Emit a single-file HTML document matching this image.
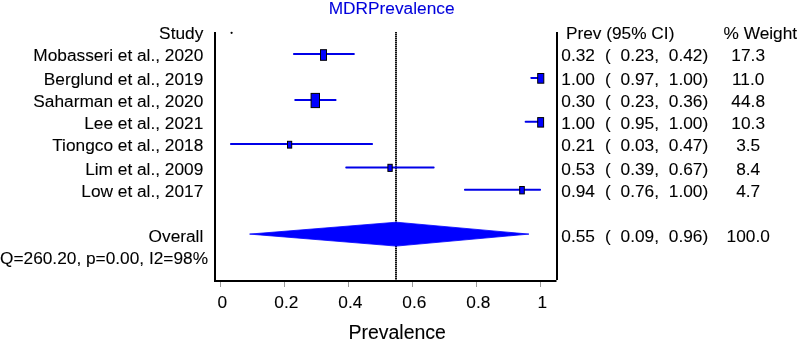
<!DOCTYPE html>
<html><head><meta charset="utf-8"><style>
html,body{margin:0;padding:0;background:#fff;}
body{width:797px;height:345px;overflow:hidden;position:relative;font-family:"Liberation Sans",sans-serif;}
.t{position:absolute;white-space:pre;-webkit-font-smoothing:antialiased;-webkit-text-stroke:0.1px currentColor;}
</style></head><body>
<svg width="797" height="345" viewBox="0 0 797 345" style="position:absolute;left:0;top:0"><rect x="395" y="32" width="2" height="248" fill="url(#dots)"/><rect x="293.0" y="53.10" width="61.80" height="2" rx="0.8" fill="#0000e8"/><rect x="530.3" y="76.90" width="10.20" height="2" rx="0.8" fill="#0000e8"/><rect x="294.3" y="99.00" width="42.20" height="2" rx="0.8" fill="#0000e8"/><rect x="524.7" y="120.80" width="15.80" height="2" rx="0.8" fill="#0000e8"/><rect x="230.0" y="143.10" width="143.00" height="2" rx="0.8" fill="#0000e8"/><rect x="345.3" y="166.50" width="89.30" height="2" rx="0.8" fill="#0000e8"/><rect x="464.0" y="188.70" width="77.00" height="2" rx="0.8" fill="#0000e8"/><rect x="320.50" y="49.70" width="6.00" height="10.60" fill="#0000ff" stroke="#000" stroke-width="1"/><rect x="537.70" y="73.50" width="6.10" height="9.70" fill="#0000ff" stroke="#000" stroke-width="1"/><rect x="311.10" y="93.40" width="8.40" height="14.20" fill="#0000ff" stroke="#000" stroke-width="1"/><rect x="537.70" y="117.60" width="5.90" height="9.50" fill="#0000ff" stroke="#000" stroke-width="1"/><rect x="287.50" y="141.30" width="4.20" height="6.80" fill="#0000ff" stroke="#000" stroke-width="1"/><rect x="387.90" y="164.30" width="4.30" height="7.10" fill="#0000ff" stroke="#000" stroke-width="1"/><rect x="519.70" y="186.50" width="4.60" height="7.40" fill="#0000ff" stroke="#000" stroke-width="1"/><polygon points="249.6,234.1 396.2,222.2 528.9,234.1 396.2,246.1" fill="#0000ff" stroke="#0000ff" stroke-width="0.8"/><rect x="214" y="32" width="2" height="248" fill="#000"/><rect x="556" y="32" width="2" height="248" fill="#000"/><rect x="214" y="280" width="342.5" height="2" fill="#000"/><rect x="220.00" y="282" width="1" height="5" fill="#9a9a9a"/><rect x="284.00" y="282" width="1" height="5" fill="#9a9a9a"/><rect x="348.00" y="282" width="1" height="5" fill="#9a9a9a"/><rect x="412.00" y="282" width="1" height="5" fill="#9a9a9a"/><rect x="476.00" y="282" width="1" height="5" fill="#9a9a9a"/><rect x="540.00" y="282" width="1" height="5" fill="#9a9a9a"/><circle cx="231.6" cy="32.8" r="1.1" fill="#000"/><defs><pattern id="dots" x="0" y="32" width="2" height="2" patternUnits="userSpaceOnUse"><rect width="2" height="1" fill="#111"/><rect y="1" width="2" height="1" fill="#858585"/></pattern></defs></svg>
<div class="t" style="top:-1.06px;font-size:17.3px;line-height:19.89px;color:#0000dc;transform:translateZ(0) scaleY(1.0);transform-origin:0 15.66px;left:328.70px;">MDRPrevalence</div>
<div class="t" style="top:24.14px;font-size:17.3px;line-height:19.89px;color:#000;transform:translateZ(0) scaleY(1.0);transform-origin:0 15.66px;right:593.70px;text-align:right;">Study</div>
<div class="t" style="top:46.24px;font-size:17.3px;line-height:19.89px;color:#000;transform:translateZ(0) scaleY(1.0);transform-origin:0 15.66px;right:593.70px;text-align:right;">Mobasseri et al., 2020</div>
<div class="t" style="top:69.84px;font-size:17.3px;line-height:19.89px;color:#000;transform:translateZ(0) scaleY(1.0);transform-origin:0 15.66px;right:593.70px;text-align:right;">Berglund et al., 2019</div>
<div class="t" style="top:91.94px;font-size:17.3px;line-height:19.89px;color:#000;transform:translateZ(0) scaleY(1.0);transform-origin:0 15.66px;right:593.70px;text-align:right;">Saharman et al., 2020</div>
<div class="t" style="top:114.44px;font-size:17.3px;line-height:19.89px;color:#000;transform:translateZ(0) scaleY(1.0);transform-origin:0 15.66px;right:593.70px;text-align:right;">Lee et al., 2021</div>
<div class="t" style="top:136.14px;font-size:17.3px;line-height:19.89px;color:#000;transform:translateZ(0) scaleY(1.0);transform-origin:0 15.66px;right:593.70px;text-align:right;">Tiongco et al., 2018</div>
<div class="t" style="top:159.54px;font-size:17.3px;line-height:19.89px;color:#000;transform:translateZ(0) scaleY(1.0);transform-origin:0 15.66px;right:593.70px;text-align:right;">Lim et al., 2009</div>
<div class="t" style="top:181.94px;font-size:17.3px;line-height:19.89px;color:#000;transform:translateZ(0) scaleY(1.0);transform-origin:0 15.66px;right:593.70px;text-align:right;">Low et al., 2017</div>
<div class="t" style="top:227.44px;font-size:17.3px;line-height:19.89px;color:#000;transform:translateZ(0) scaleY(1.0);transform-origin:0 15.66px;right:593.70px;text-align:right;">Overall</div>
<div class="t" style="top:249.24px;font-size:17.3px;line-height:19.89px;color:#000;transform:translateZ(0) scaleY(1.0);transform-origin:0 15.66px;left:0.00px;">Q=260.20, p=0.00, I2=98%</div>
<div class="t" style="top:24.24px;font-size:17.3px;line-height:19.89px;color:#000;transform:translateZ(0) scaleY(1.0);transform-origin:0 15.66px;left:565.90px;">Prev (95% CI)</div>
<div class="t" style="top:24.24px;font-size:17.3px;line-height:19.89px;color:#000;transform:translateZ(0) scaleY(1.0);transform-origin:0 15.66px;left:723.50px;">% Weight</div>
<div class="t" style="top:46.34px;font-size:17.3px;line-height:19.89px;color:#000;transform:translateZ(0) scaleY(1.0);transform-origin:0 15.66px;left:561.30px;">0.32</div>
<div class="t" style="top:46.34px;font-size:17.3px;line-height:19.89px;color:#000;transform:translateZ(0) scaleY(1.0);transform-origin:0 15.66px;left:605.10px;">(</div>
<div class="t" style="top:46.34px;font-size:17.3px;line-height:19.89px;color:#000;transform:translateZ(0) scaleY(1.0);transform-origin:0 15.66px;left:620.60px;">0.23,</div>
<div class="t" style="top:46.34px;font-size:17.3px;line-height:19.89px;color:#000;transform:translateZ(0) scaleY(1.0);transform-origin:0 15.66px;left:668.80px;">0.42)</div>
<div class="t" style="top:46.34px;font-size:17.3px;line-height:19.89px;color:#000;transform:translateZ(0) scaleY(1.0);transform-origin:0 15.66px;left:548.20px;width:400px;text-align:center;">17.3</div>
<div class="t" style="top:69.94px;font-size:17.3px;line-height:19.89px;color:#000;transform:translateZ(0) scaleY(1.0);transform-origin:0 15.66px;left:561.30px;">1.00</div>
<div class="t" style="top:69.94px;font-size:17.3px;line-height:19.89px;color:#000;transform:translateZ(0) scaleY(1.0);transform-origin:0 15.66px;left:605.10px;">(</div>
<div class="t" style="top:69.94px;font-size:17.3px;line-height:19.89px;color:#000;transform:translateZ(0) scaleY(1.0);transform-origin:0 15.66px;left:620.60px;">0.97,</div>
<div class="t" style="top:69.94px;font-size:17.3px;line-height:19.89px;color:#000;transform:translateZ(0) scaleY(1.0);transform-origin:0 15.66px;left:668.80px;">1.00)</div>
<div class="t" style="top:69.94px;font-size:17.3px;line-height:19.89px;color:#000;transform:translateZ(0) scaleY(1.0);transform-origin:0 15.66px;left:548.20px;width:400px;text-align:center;">11.0</div>
<div class="t" style="top:91.84px;font-size:17.3px;line-height:19.89px;color:#000;transform:translateZ(0) scaleY(1.0);transform-origin:0 15.66px;left:561.30px;">0.30</div>
<div class="t" style="top:91.84px;font-size:17.3px;line-height:19.89px;color:#000;transform:translateZ(0) scaleY(1.0);transform-origin:0 15.66px;left:605.10px;">(</div>
<div class="t" style="top:91.84px;font-size:17.3px;line-height:19.89px;color:#000;transform:translateZ(0) scaleY(1.0);transform-origin:0 15.66px;left:620.60px;">0.23,</div>
<div class="t" style="top:91.84px;font-size:17.3px;line-height:19.89px;color:#000;transform:translateZ(0) scaleY(1.0);transform-origin:0 15.66px;left:668.80px;">0.36)</div>
<div class="t" style="top:91.84px;font-size:17.3px;line-height:19.89px;color:#000;transform:translateZ(0) scaleY(1.0);transform-origin:0 15.66px;left:548.20px;width:400px;text-align:center;">44.8</div>
<div class="t" style="top:114.44px;font-size:17.3px;line-height:19.89px;color:#000;transform:translateZ(0) scaleY(1.0);transform-origin:0 15.66px;left:561.30px;">1.00</div>
<div class="t" style="top:114.44px;font-size:17.3px;line-height:19.89px;color:#000;transform:translateZ(0) scaleY(1.0);transform-origin:0 15.66px;left:605.10px;">(</div>
<div class="t" style="top:114.44px;font-size:17.3px;line-height:19.89px;color:#000;transform:translateZ(0) scaleY(1.0);transform-origin:0 15.66px;left:620.60px;">0.95,</div>
<div class="t" style="top:114.44px;font-size:17.3px;line-height:19.89px;color:#000;transform:translateZ(0) scaleY(1.0);transform-origin:0 15.66px;left:668.80px;">1.00)</div>
<div class="t" style="top:114.44px;font-size:17.3px;line-height:19.89px;color:#000;transform:translateZ(0) scaleY(1.0);transform-origin:0 15.66px;left:548.20px;width:400px;text-align:center;">10.3</div>
<div class="t" style="top:136.14px;font-size:17.3px;line-height:19.89px;color:#000;transform:translateZ(0) scaleY(1.0);transform-origin:0 15.66px;left:561.30px;">0.21</div>
<div class="t" style="top:136.14px;font-size:17.3px;line-height:19.89px;color:#000;transform:translateZ(0) scaleY(1.0);transform-origin:0 15.66px;left:605.10px;">(</div>
<div class="t" style="top:136.14px;font-size:17.3px;line-height:19.89px;color:#000;transform:translateZ(0) scaleY(1.0);transform-origin:0 15.66px;left:620.60px;">0.03,</div>
<div class="t" style="top:136.14px;font-size:17.3px;line-height:19.89px;color:#000;transform:translateZ(0) scaleY(1.0);transform-origin:0 15.66px;left:668.80px;">0.47)</div>
<div class="t" style="top:136.14px;font-size:17.3px;line-height:19.89px;color:#000;transform:translateZ(0) scaleY(1.0);transform-origin:0 15.66px;left:548.20px;width:400px;text-align:center;">3.5</div>
<div class="t" style="top:159.54px;font-size:17.3px;line-height:19.89px;color:#000;transform:translateZ(0) scaleY(1.0);transform-origin:0 15.66px;left:561.30px;">0.53</div>
<div class="t" style="top:159.54px;font-size:17.3px;line-height:19.89px;color:#000;transform:translateZ(0) scaleY(1.0);transform-origin:0 15.66px;left:605.10px;">(</div>
<div class="t" style="top:159.54px;font-size:17.3px;line-height:19.89px;color:#000;transform:translateZ(0) scaleY(1.0);transform-origin:0 15.66px;left:620.60px;">0.39,</div>
<div class="t" style="top:159.54px;font-size:17.3px;line-height:19.89px;color:#000;transform:translateZ(0) scaleY(1.0);transform-origin:0 15.66px;left:668.80px;">0.67)</div>
<div class="t" style="top:159.54px;font-size:17.3px;line-height:19.89px;color:#000;transform:translateZ(0) scaleY(1.0);transform-origin:0 15.66px;left:548.20px;width:400px;text-align:center;">8.4</div>
<div class="t" style="top:181.94px;font-size:17.3px;line-height:19.89px;color:#000;transform:translateZ(0) scaleY(1.0);transform-origin:0 15.66px;left:561.30px;">0.94</div>
<div class="t" style="top:181.94px;font-size:17.3px;line-height:19.89px;color:#000;transform:translateZ(0) scaleY(1.0);transform-origin:0 15.66px;left:605.10px;">(</div>
<div class="t" style="top:181.94px;font-size:17.3px;line-height:19.89px;color:#000;transform:translateZ(0) scaleY(1.0);transform-origin:0 15.66px;left:620.60px;">0.76,</div>
<div class="t" style="top:181.94px;font-size:17.3px;line-height:19.89px;color:#000;transform:translateZ(0) scaleY(1.0);transform-origin:0 15.66px;left:668.80px;">1.00)</div>
<div class="t" style="top:181.94px;font-size:17.3px;line-height:19.89px;color:#000;transform:translateZ(0) scaleY(1.0);transform-origin:0 15.66px;left:548.20px;width:400px;text-align:center;">4.7</div>
<div class="t" style="top:227.44px;font-size:17.3px;line-height:19.89px;color:#000;transform:translateZ(0) scaleY(1.0);transform-origin:0 15.66px;left:561.30px;">0.55</div>
<div class="t" style="top:227.44px;font-size:17.3px;line-height:19.89px;color:#000;transform:translateZ(0) scaleY(1.0);transform-origin:0 15.66px;left:605.10px;">(</div>
<div class="t" style="top:227.44px;font-size:17.3px;line-height:19.89px;color:#000;transform:translateZ(0) scaleY(1.0);transform-origin:0 15.66px;left:620.60px;">0.09,</div>
<div class="t" style="top:227.44px;font-size:17.3px;line-height:19.89px;color:#000;transform:translateZ(0) scaleY(1.0);transform-origin:0 15.66px;left:668.80px;">0.96)</div>
<div class="t" style="top:227.44px;font-size:17.3px;line-height:19.89px;color:#000;transform:translateZ(0) scaleY(1.0);transform-origin:0 15.66px;left:548.20px;width:400px;text-align:center;">100.0</div>
<div class="t" style="top:292.94px;font-size:17.3px;line-height:19.89px;color:#000;transform:translateZ(0) scaleY(1.0);transform-origin:0 15.66px;left:22.30px;width:400px;text-align:center;">0</div>
<div class="t" style="top:292.94px;font-size:17.3px;line-height:19.89px;color:#000;transform:translateZ(0) scaleY(1.0);transform-origin:0 15.66px;left:86.30px;width:400px;text-align:center;">0.2</div>
<div class="t" style="top:292.94px;font-size:17.3px;line-height:19.89px;color:#000;transform:translateZ(0) scaleY(1.0);transform-origin:0 15.66px;left:150.30px;width:400px;text-align:center;">0.4</div>
<div class="t" style="top:292.94px;font-size:17.3px;line-height:19.89px;color:#000;transform:translateZ(0) scaleY(1.0);transform-origin:0 15.66px;left:214.30px;width:400px;text-align:center;">0.6</div>
<div class="t" style="top:292.94px;font-size:17.3px;line-height:19.89px;color:#000;transform:translateZ(0) scaleY(1.0);transform-origin:0 15.66px;left:278.30px;width:400px;text-align:center;">0.8</div>
<div class="t" style="top:292.94px;font-size:17.3px;line-height:19.89px;color:#000;transform:translateZ(0) scaleY(1.0);transform-origin:0 15.66px;left:342.30px;width:400px;text-align:center;">1</div>
<div class="t" style="top:320.65px;font-size:19.5px;line-height:22.42px;color:#000;transform:translateZ(0) scaleY(1.0);transform-origin:0 17.65px;left:348.40px;">Prevalence</div>

</body></html>
